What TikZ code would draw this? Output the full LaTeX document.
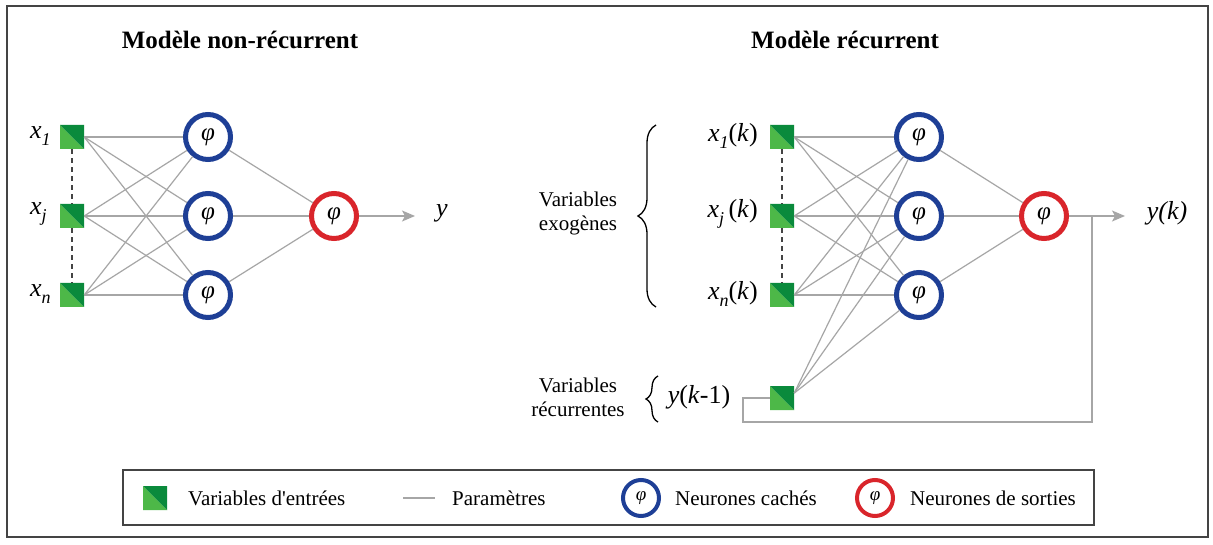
\documentclass[tikz,border=0pt]{standalone}
\usepackage{fontspec}
\setmainfont{Liberation Serif}
\usetikzlibrary{arrows.meta,decorations.pathreplacing,calc}
\definecolor{lgreen}{HTML}{4DB848}
\definecolor{dgreen}{HTML}{0A8A3C}
\definecolor{nblue}{HTML}{1E3F96}
\definecolor{nred}{HTML}{D9252B}
\definecolor{wgray}{HTML}{A6A6A6}
\definecolor{fgray}{HTML}{444444}
\newcommand{\mysub}[1]{\raisebox{-0.28em}{\fontsize{18}{18}\selectfont\textit{#1}}}
\begin{document}
\begin{tikzpicture}[x=1pt,y=-1pt,
 inbox/.style={minimum size=24pt, inner sep=0pt, draw=none,
   path picture={
     \fill[lgreen] (path picture bounding box.north west) -- (path picture bounding box.south west) -- (path picture bounding box.south east) -- cycle;
     \fill[dgreen] (path picture bounding box.north west) -- (path picture bounding box.north east) -- (path picture bounding box.south east) -- cycle;}},
 hid/.style={circle, draw=nblue, line width=5pt, minimum size=45pt, inner sep=0pt, fill=white, font=\fontsize{25}{25}\selectfont\itshape},
 outn/.style={hid, draw=nred},
 lhid/.style={circle, draw=nblue, line width=4pt, minimum size=36pt, inner sep=0pt, fill=white, font=\fontsize{19}{19}\selectfont\itshape},
 lout/.style={lhid, draw=nred},
 wire/.style={draw=wgray, line width=1.2pt},
 arr/.style={wire, -{Stealth[length=13pt,width=11pt,inset=3pt]}},
 dashln/.style={draw=fgray, line width=1.6pt, dash pattern=on 5pt off 4pt},
 lab/.style={font=\fontsize{26}{26}\selectfont, inner sep=0pt},
 txt/.style={font=\fontsize{21}{24}\selectfont, align=center, inner sep=0pt},
 ttl/.style={font=\fontsize{25}{28}\selectfont\bfseries, inner sep=0pt},
 brc/.style={decorate, line width=1.3pt, draw=black},
]
\fill[white] (0,0) rectangle (1213,545);
\useasboundingbox (0,0) rectangle (1213,545);
\draw[fgray, line width=1.3pt] (7,6) rectangle (1208,537);

% titles
\node[ttl] (t1) at (240,40) {Modèle non-récurrent};
\node[ttl] (t2) at (845,40) {Modèle récurrent};

% ---------- left network ----------
\node[inbox] (a1) at (72,137) {};
\node[inbox] (a2) at (72,216) {};
\node[inbox] (a3) at (72,295) {};
\node[hid] (h1) at (208,137) {φ};
\node[hid] (h2) at (208,216) {φ};
\node[hid] (h3) at (208,295) {φ};
\node[outn] (o) at (334,216) {φ};
\coordinate (yend) at (415,216);
\node[lab] (ylab) at (442,213) {\textit{y}};
\node[lab, anchor=west] (l1) at (30,136) {\textit{x}\mysub{1}};
\node[lab, anchor=west] (l2) at (30,214) {\textit{x}\mysub{j}};
\node[lab, anchor=west] (l3) at (30,294) {\textit{x}\mysub{n}};

\foreach \i in {a1,a2,a3}{\foreach \j in {h1,h2,h3}{\draw[wire] (\i.east) -- (\j);}}
\foreach \j in {h1,h2,h3}{\draw[wire] (\j) -- (o);}
\draw[arr] (o) -- (yend);
\draw[dashln] (a1.south) -- (a2.north);
\draw[dashln] (a2.south) -- (a3.north);

% ---------- right network ----------
\node[inbox] (b1) at (782,137) {};
\node[inbox] (b2) at (782,216) {};
\node[inbox] (b3) at (782,295) {};
\node[inbox] (r) at (782,398) {};
\coordinate (rc) at ($(r.north east)!0.3!(r.south east)$);
\node[lab, anchor=east] (m1) at (758,136) {\textit{x}\mysub{1}(\textit{k})};
\node[lab, anchor=east] (m2) at (758,214) {\textit{x}\mysub{j}\,(\textit{k})};
\node[lab, anchor=east] (m3) at (758,294) {\textit{x}\mysub{n}(\textit{k})};
\node[lab] (yk1) at (699,397) {\textit{y}(\textit{k}-1)};

\node[hid] (g1) at (919,137) {φ};
\node[hid] (g2) at (919,216) {φ};
\node[hid] (g3) at (919,295) {φ};
\node[outn] (p) at (1044,216) {φ};
\coordinate (ykend) at (1125,216);
\coordinate (fb) at (1092,216);
\node[lab] (yklab) at (1167,213) {\textit{y(k)}};

\foreach \i in {b1,b2,b3}{\foreach \j in {g1,g2,g3}{\draw[wire] (\i.east) -- (\j);}}
\foreach \j in {g1,g2,g3}{\draw[wire] (rc) -- (\j);}
\foreach \j in {g1,g2,g3}{\draw[wire] (\j) -- (p);}
\draw[arr] (p) -- (ykend);
\draw[wire] (fb) -- (1092,422) -- (743,422) -- (743,398) -- (r.west);
\draw[dashln] (b1.south) -- (b2.north);
\draw[dashln] (b2.south) -- (b3.north);

% braces and side texts
\draw[brc, decoration={brace, amplitude=18pt}] (656,307) -- (656,125);
\node[txt] (exo) at (578,213) {Variables\\exogènes};
\draw[brc, decoration={brace, amplitude=12pt}] (658,422) -- (658,376);
\node[txt] (rec) at (578,397) {Variables\\récurrentes};

% ---------- legend ----------
\draw[fgray, line width=1.3pt] (123,470) rectangle (1094,525);
\node[inbox] (lsq) at (155,498) {};
\node[txt, anchor=west] (lt1) at (188,498) {Variables d\textquotesingle entrées};
\coordinate (lw1) at (403,498);
\coordinate (lw2) at (435,498);
\draw[wire] (lw1) -- (lw2);
\node[txt, anchor=west] (lt2) at (452,498) {Paramètres};
\node[lhid] (lc1) at (641,498) {φ};
\node[txt, anchor=west] (lt3) at (675,498) {Neurones cachés};
\node[lout] (lc2) at (875,498) {φ};
\node[txt, anchor=west] (lt4) at (910,498) {Neurones de sorties};
\end{tikzpicture}
\end{document}
